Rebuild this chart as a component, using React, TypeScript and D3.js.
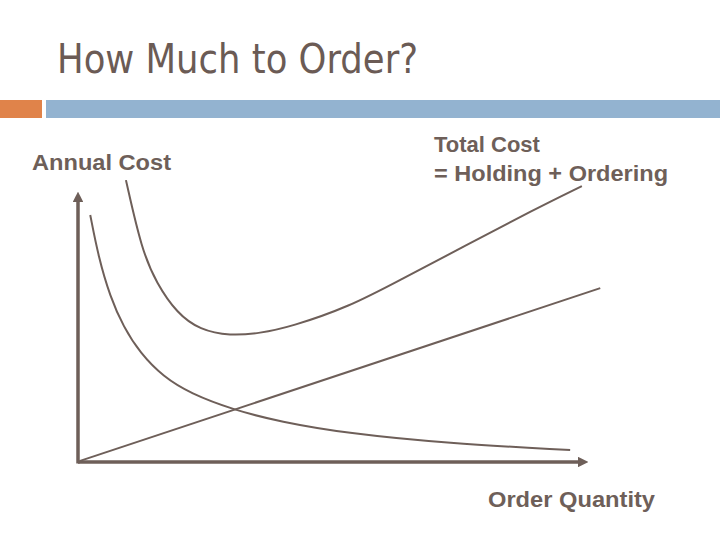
import React from "react";
import * as d3 from "d3";

// values (quantity, cost), both on a 0-100 scale
const totalQty = [9.4, 12.5, 15.4, 19.4, 23.9, 29.8, 35.7, 41.6, 53.3, 63.1, 76.3, 89.2, 98.8];
const totalCost = [104.4, 78.5, 66.2, 55.1, 48.9, 46.7, 47.7, 50.0, 57.6, 67.4, 80.4, 93.3, 102.2];

const orderingQty = [2.4, 4.0, 6.3, 8.9, 12.2, 16.7, 22.0, 30.5, 39.6, 52.7, 72.3, 96.5];
const orderingCost = [91.5, 76.0, 61.2, 50.1, 40.3, 31.6, 25.4, 19.3, 14.9, 10.6, 6.9, 4.4];

const holdingQty = [0.4, 102.4];
const holdingCost = [0.4, 64.4];

const title = "How Much to Order?";
const yLabel = "Annual Cost";
const xLabel = "Order Quantity";
const totalLabel = ["Total Cost", "= Holding + Ordering"];

const ink = "#6e5f59";

export default function App() {
  const w = 720;
  const h = 540;

  const x = d3.scaleLinear().domain([0, 100]).range([78, 588]);
  const y = d3.scaleLinear().domain([0, 100]).range([462, 192]);

  // smooth b-spline through the hand-read points (hits both ends)
  const line = d3
    .line<[number, number]>()
    .x((d) => x(d[0]))
    .y((d) => y(d[1]))
    .curve(d3.curveBasis);

  const pts = (qs: number[], cs: number[]) => qs.map((q, i) => [q, cs[i]] as [number, number]);

  const series = [
    pts(totalQty, totalCost),
    pts(orderingQty, orderingCost),
    pts(holdingQty, holdingCost),
  ];

  const [x0, x1] = x.range();
  const [y0, y1] = y.range();

  return (
    <svg
      width={w}
      height={h}
      style={{ position: "absolute", left: 0, top: 0, background: "#fff" }}
    >
      <defs>
        <marker
          id="arrow"
          viewBox="0 0 10 10"
          refX="2"
          refY="5"
          markerWidth="3"
          markerHeight="3"
          orient="auto"
        >
          <path d="M0,0 L10,5 L0,10 z" fill={ink} />
        </marker>
      </defs>

      {/* title and header bars */}
      <text
        x={57}
        y={73}
        fontFamily="'Liberation Sans Narrow', 'DejaVu Sans Condensed', 'Liberation Sans', sans-serif"
        fontSize={40}
        fill="#6b5b55"
        textLength={361}
        lengthAdjust="spacingAndGlyphs"
      >
        {title}
      </text>
      <rect x={0} y={100} width={42} height={18} fill="#e0834a" />
      <rect x={46} y={100} width={674} height={18} fill="#93b3d0" />

      {/* axes */}
      <line x1={x0} y1={y0} x2={x1 - 8} y2={y0} stroke={ink} strokeWidth={3.5} markerEnd="url(#arrow)" />
      <line x1={x0} y1={y0 + 1.5} x2={x0} y2={y1 + 8} stroke={ink} strokeWidth={3.5} markerEnd="url(#arrow)" />

      {/* cost curves */}
      {series.map((s, i) => (
        <path key={i} d={line(s) ?? ""} fill="none" stroke={ink} strokeWidth={2} />
      ))}

      {/* labels */}
      <g fontFamily="'Liberation Sans', Arial, sans-serif" fontWeight="bold" fontSize={22} fill={ink}>
        <text x={32} y={170} textLength={139} lengthAdjust="spacingAndGlyphs">{yLabel}</text>
        <text x={434} y={152}>{totalLabel[0]}</text>
        <text x={434} y={181} textLength={234} lengthAdjust="spacingAndGlyphs">{totalLabel[1]}</text>
        <text x={488} y={507} textLength={167} lengthAdjust="spacingAndGlyphs">{xLabel}</text>
      </g>
    </svg>
  );
}
